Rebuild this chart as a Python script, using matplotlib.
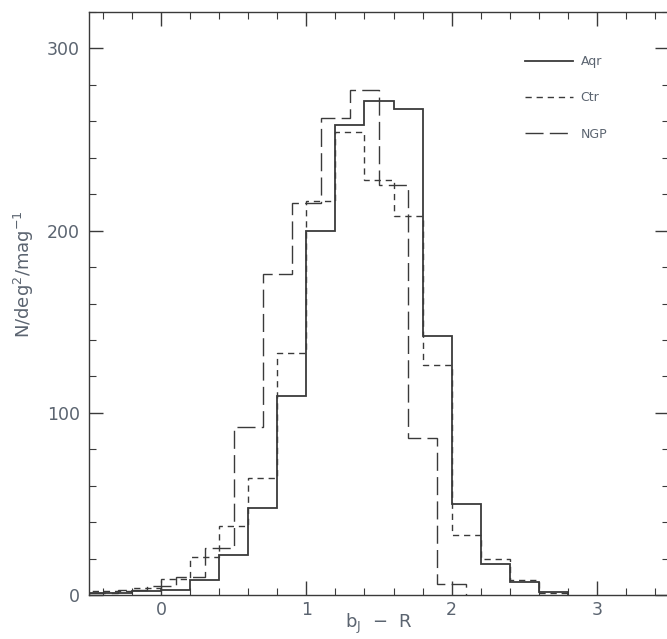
import numpy as np
import matplotlib
matplotlib.use("Agg")
import matplotlib.pyplot as plt
from matplotlib.ticker import MultipleLocator

# --- data (counts per bin, bin width 0.2 mag) ---
aqr_start = -0.6
aqr_counts = [1, 1, 2, 3, 8, 22, 48, 109, 200, 258, 271, 267, 142, 50, 17, 7, 1.5]

ctr_start = -0.6
ctr_counts = [2, 2, 4, 9, 21, 38, 64, 133, 216, 254, 228, 208, 126, 33, 20, 8, 1]

ngp_start = -0.5
ngp_counts = [1, 3, 5, 10, 26, 92, 176, 215, 262, 277, 225, 86, 6]

bin_width = 0.2
labels = ["Aqr", "Ctr", "NGP"]

ink = "#3a3a3a"
txt = "#5b6470"

plt.rcParams['font.family'] = ['DejaVu Sans']
plt.rcParams['mathtext.fontset'] = 'dejavusans'


def edges_for(start, counts):
    return start + bin_width * np.arange(len(counts) + 1)


fig = plt.figure(figsize=(6.67, 6.39), dpi=100)
ax = fig.add_axes([88.5 / 667, 44 / 639, 581 / 667, 583 / 639])

ax.stairs(aqr_counts, edges_for(aqr_start, aqr_counts), color=ink, lw=1.3,
          linestyle='-', label=labels[0])
ax.stairs(ctr_counts, edges_for(ctr_start, ctr_counts), color=ink, lw=1.0,
          linestyle=(0, (4.5, 3.5)), label=labels[1])
ax.stairs(ngp_counts, edges_for(ngp_start, ngp_counts), color=ink, lw=1.0,
          linestyle=(0, (13, 4.5)), label=labels[2])

ax.set_xlim(-0.5, 3.5)
ax.set_ylim(0, 320)

ax.xaxis.set_major_locator(MultipleLocator(1))
ax.xaxis.set_minor_locator(MultipleLocator(0.2))
ax.yaxis.set_major_locator(MultipleLocator(100))
ax.yaxis.set_minor_locator(MultipleLocator(20))
ax.tick_params(which='both', direction='in', top=True, right=True,
               color=ink, labelcolor=txt, labelsize=12.5)
ax.tick_params(axis='x', pad=4)
ax.tick_params(axis='y', pad=6)
ax.tick_params(which='major', length=10, width=1.0)
ax.tick_params(which='minor', length=5, width=0.8)
for s in ax.spines.values():
    s.set_color(ink)
    s.set_linewidth(1.0)

ax.set_xlabel(r'b$_{\rm J}$  $-$  R', color=txt, fontsize=13)
ax.xaxis.set_label_coords(0.5, -0.029)
ax.set_ylabel(r'N/deg$^2$/mag$^{-1}$', color=txt, fontsize=13)
ax.yaxis.set_label_coords(-0.09, 0.55)

leg = ax.legend(loc='upper right', bbox_to_anchor=(0.912, 0.945), frameon=False,
                handlelength=3.8, handletextpad=0.6, labelspacing=1.85,
                fontsize=9)
for t in leg.get_texts():
    t.set_color(txt)

fig.savefig("out.png", dpi=100)
